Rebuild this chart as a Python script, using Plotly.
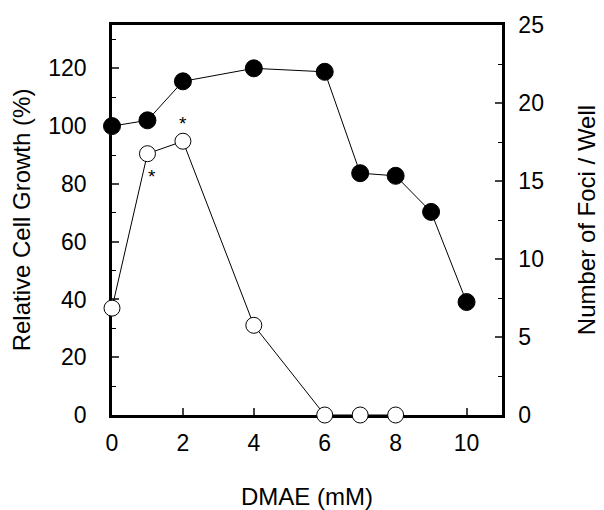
import plotly.graph_objects as go

dmae_growth = [0, 1, 2, 4, 6, 7, 8, 9, 10]
cell_growth = [100, 102, 115.5, 120, 118.8, 83.7, 82.8, 70.3, 39.1]

dmae_foci = [0, 1, 2, 4, 6, 7, 8]
foci_per_well = [6.85, 16.75, 17.55, 5.75, 0, 0, 0]

x_ticks = [0, 2, 4, 6, 8, 10]
left_ticks = [0, 20, 40, 60, 80, 100, 120]
right_ticks = [0, 5, 10, 15, 20, 25]

FONT = "Liberation Sans, Arial, sans-serif"

fig = go.Figure()
fig.add_trace(go.Scatter(
    x=dmae_growth, y=cell_growth, mode="lines+markers",
    line=dict(color="black", width=1),
    marker=dict(size=17, color="black", line=dict(color="black", width=1)),
    cliponaxis=False, showlegend=False, yaxis="y"))
fig.add_trace(go.Scatter(
    x=dmae_foci, y=foci_per_well, mode="lines+markers",
    line=dict(color="black", width=1),
    marker=dict(size=16, color="white", line=dict(color="black", width=1)),
    cliponaxis=False, showlegend=False, yaxis="y2"))

fig.add_annotation(x=2, y=18.85, xref="x", yref="y2", text="*", showarrow=False,
                   font=dict(size=19, family=FONT, color="black"), yanchor="middle", yshift=-3)
fig.add_annotation(x=1.13, y=15.5, xref="x", yref="y2", text="*", showarrow=False,
                   font=dict(size=19, family=FONT, color="black"), yanchor="middle", yshift=-3)

fig.update_layout(
    width=604, height=510,
    margin=dict(l=104, r=110, t=17, b=103, autoexpand=False),
    paper_bgcolor="white", plot_bgcolor="white",
    font=dict(family=FONT, size=23, color="black"),
    xaxis=dict(range=[0, 11], tickvals=x_ticks, ticks="inside", ticklen=7, tickwidth=1.5,
               showline=True, linewidth=2.5, linecolor="black", mirror=True,
               showgrid=False, zeroline=False, layer="below traces", automargin=False,
               ticklabelstandoff=6, tickfont=dict(size=23),
               title=dict(text="DMAE (mM)", standoff=33, font=dict(size=24))),
    yaxis=dict(range=[0, 135], tickvals=left_ticks, ticks="inside", ticklen=7, tickwidth=1.5,
               minor=dict(ticks="inside", dtick=10, ticklen=4, tickwidth=1, tickcolor="black"),
               showline=True, linewidth=2.5, linecolor="black",
               showgrid=False, zeroline=False, layer="below traces", automargin=False,
               ticklabelstandoff=18, tickfont=dict(size=23),
               title=dict(text="Relative Cell Growth (%)", standoff=20, font=dict(size=24))),
    yaxis2=dict(range=[0, 25], tickvals=right_ticks, ticks="inside", ticklen=7, tickwidth=1.5,
                minor=dict(ticks="inside", dtick=2.5, ticklen=4, tickwidth=1, tickcolor="black"),
                overlaying="y", side="right",
                showline=True, linewidth=2.5, linecolor="black",
                showgrid=False, zeroline=False, layer="below traces", automargin=False,
                ticklabelstandoff=9, tickfont=dict(size=23),
                title=dict(text="Number of Foci / Well", standoff=36, font=dict(size=24))),
)

fig.write_html("out.html")
